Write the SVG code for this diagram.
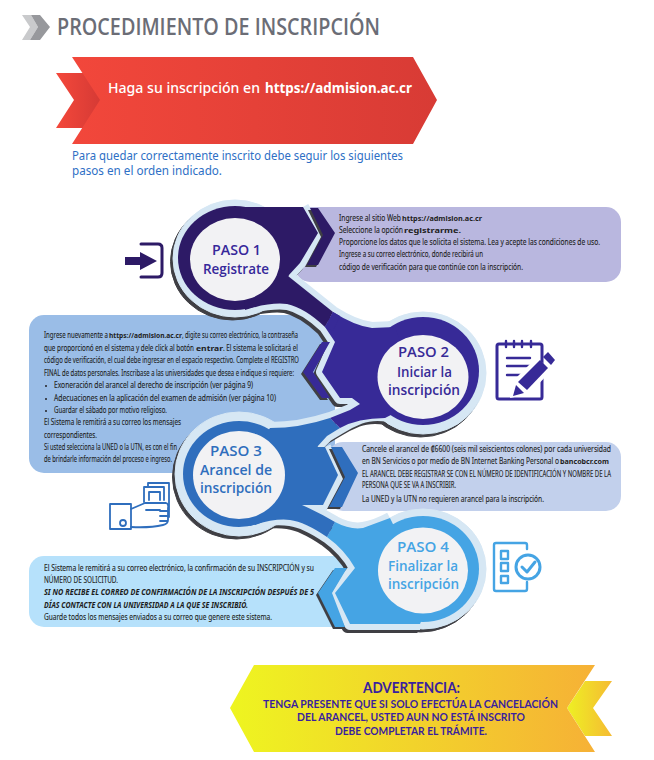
<svg xmlns="http://www.w3.org/2000/svg" width="654" height="760" viewBox="0 0 654 760">
<style>
text{font-family:"Noto Sans","Open Sans",sans-serif}
.t{font-size:8px;fill:#1e1e22;stroke:#1e1e22;stroke-width:.1}
.b{font-weight:700;font-size:7.5px;fill:#1e1e22}
.bi{font-size:8px;font-weight:700;font-style:italic;fill:#1c1c20}
.h{font-family:"Open Sans","Noto Sans",sans-serif;font-size:15px;font-weight:600;text-anchor:start}
.y{font-family:Lato,"Noto Sans",sans-serif;font-weight:700;font-size:12px;fill:#3a1f9e}
.sh{fill:#3f3f44;stroke:#3f3f44}
.li{fill:#d6e7f4;stroke:#d6e7f4}
.ed{stroke-width:12;stroke-linejoin:round}
.wh{fill:#f2f2f4}
.ic{fill:none;stroke-linecap:round;stroke-linejoin:round}
</style>
<defs>
<linearGradient id="red" x1="0" x2="1" y1="0" y2="0"><stop offset="0" stop-color="#f2473b"/><stop offset="1" stop-color="#d83b35"/></linearGradient>
<linearGradient id="redb" x1="0" x2="1" y1="0" y2="0"><stop offset="0" stop-color="#f4483b"/><stop offset="1" stop-color="#d63a35"/></linearGradient>
<linearGradient id="yel" x1="0" x2="1" y1="0" y2="0"><stop offset="0" stop-color="#eef520"/><stop offset="1" stop-color="#f6b136"/></linearGradient>
<linearGradient id="yelb" x1="0" x2="1" y1="0" y2="0"><stop offset="0" stop-color="#eef023"/><stop offset="1" stop-color="#f5bb33"/></linearGradient>
<g id="rings">
<ellipse cx="235" cy="258.5" rx="62" ry="58.5"/>
<ellipse cx="423" cy="373" rx="63" ry="61"/>
<ellipse cx="239" cy="474" rx="64" ry="62"/>
<ellipse cx="423" cy="569" rx="63" ry="60"/>
</g>
<g id="edges" style="fill:none">
<path d="M303,207L318,233L300,263L288,276L333,312Q355,326 372,328L395,327"/>
<path d="M240,310Q270,302 287,304Q305,308 325,327L335,342L322,372L340,398L352,398L360,404L350,410L330,418Q300,428 270,428"/>
<path d="M400,418Q375,412 360,418Q350,422 340,428L327,436L317,446"/>
<path d="M325,447L338,475L323,505L302,505Q320,513 335,522Q350,530 363,528Q375,526 390,518"/>
<path d="M230,526Q270,517 290,520Q305,522 327,537Q345,550 355,568L335,593L350,624L420,624"/>
</g>
<polygon id="c1" points="310,208 318,208 335,233 318,265 307,265 323,235"/>
<polygon id="c2" points="322,342 330,342 313,372 330,398 322,398 303,372"/>
<polygon id="c3" points="331,447 342,447 358,473 342,507 329,507 345,477"/>
<polygon id="c4" points="335,568 347,568 332,593 345,627 335,627 318,593"/>
</defs>

<g id="title">
<polygon fill="#c9cacc" points="22,15 31,15 38,27 30,40 22,40 30,27"/>
<polygon fill="#97989c" points="31,15 40,15 50,27 40,40 30,40 38,27"/>
<text x="57" y="35" font-size="24" font-weight="600" fill="#6b6d76" style="font-family:'Open Sans','Noto Sans',sans-serif" textLength="323" lengthAdjust="spacingAndGlyphs">PROCEDIMIENTO DE INSCRIPCIÓN</text>
</g>

<g id="banner">
<polygon fill="url(#redb)" points="56,73 100,73 100,128 56,128 74,100"/>
<polygon fill="url(#red)" points="72,57 413,57 437,100 413,144 72,144 100,100"/>
<text x="108" y="93" font-size="14.5" fill="#fff" font-weight="500" textLength="152" lengthAdjust="spacingAndGlyphs">Haga su inscripción en</text>
<text x="265" y="93" font-size="14.5" fill="#fff" font-weight="700" textLength="147" lengthAdjust="spacingAndGlyphs">https://admision.ac.cr</text>
</g>
<g id="intro" fill="#2e6fc5" font-size="12.5">
<text x="72" y="160" textLength="331" lengthAdjust="spacingAndGlyphs">Para quedar correctamente inscrito debe seguir los siguientes</text>
<text x="72" y="175" textLength="150" lengthAdjust="spacingAndGlyphs">pasos en el orden indicado.</text>
</g>

<g id="boxes">
<rect x="295" y="207" width="326" height="75" rx="15" fill="#b9b7df"/>
<rect x="29" y="315" width="306" height="158" rx="15" fill="#9abde7"/>
<rect x="328" y="442" width="293" height="69" rx="15" fill="#c2d0ec"/>
<rect x="29" y="556" width="331" height="71" rx="15" fill="#b6e1fb"/>
</g>

<g id="connectors">
<use href="#rings" class="sh" transform="translate(-2.5,3)"/>
<use href="#edges" class="sh ed" transform="translate(-2.5,3)" style="fill:none"/>
<use href="#rings" class="li"/>
<use href="#edges" class="li ed" style="fill:none"/>
<g class="sh" style="stroke:none"><use href="#c1" transform="translate(-2,2)"/><use href="#c2" transform="translate(-2,2)"/><use href="#c3" transform="translate(-2,2)"/><use href="#c4" transform="translate(-2,2)"/></g>
</g>

<g id="step4" fill="#45a4e4">
<use href="#c4"/>
<ellipse cx="423" cy="569" rx="56" ry="53"/>
<path d="M335,522Q350,530 363,528L390,518L430,600L420,624H350L335,593L355,568Q345,550 327,537Z"/>
<ellipse class="wh" cx="423" cy="570.5" rx="45" ry="43"/>
<text class="h" x="397" y="552" textLength="52" lengthAdjust="spacingAndGlyphs">PASO 4</text>
<text class="h" x="388" y="571" textLength="70" lengthAdjust="spacingAndGlyphs">Finalizar la</text>
<text class="h" x="388" y="589" textLength="71" lengthAdjust="spacingAndGlyphs">inscripción</text>
<g class="ic" stroke="#45a4e4" stroke-width="2.4">
<path d="M527,549V545Q527,543 525,543H496Q494,543 494,545V589Q494,591 496,591H525Q527,591 527,589V582"/>
<rect x="501" y="551" width="7" height="8"/><rect x="501" y="563" width="7" height="8"/><rect x="501" y="576" width="7" height="7"/>
<circle cx="528" cy="567" r="12" stroke-width="3" fill="#fff"/>
<path d="M522,567L527,572L535,562" stroke-width="3"/>
</g>
</g>

<g id="step3" fill="#2f6ebd">
<use href="#c3"/>
<ellipse cx="239" cy="474" rx="56" ry="53"/>
<path d="M330,418L340,428L327,436L317,447H325L338,475L323,505H302Q320,513 335,522L327,537Q305,522 290,520Q275,518 250,526L220,500L270,428Q300,428 330,418Z"/>
<ellipse class="wh" cx="239" cy="475" rx="46" ry="44"/>
<text class="h" x="210" y="456" textLength="52" lengthAdjust="spacingAndGlyphs">PASO 3</text>
<text class="h" x="200" y="475" textLength="72" lengthAdjust="spacingAndGlyphs">Arancel de</text>
<text class="h" x="200" y="493" textLength="72" lengthAdjust="spacingAndGlyphs">inscripción</text>
<g class="ic" stroke="#2f6ebd" stroke-width="1.8">
<rect x="110" y="504" width="21" height="25"/>
<circle cx="123" cy="523" r="3"/>
<path d="M148,487V483H169V517M144,502V487H164V500M149,500V492H160V500"/>
<path d="M131,509L145,503H166Q169,504 168,508V520Q168,524 163,525Q150,528 131,527"/>
<path d="M160,511H168M160,516H168M160,521H167M146,510H160"/>
</g>
</g>

<g id="step2" fill="#372a97">
<use href="#c2"/>
<ellipse cx="423" cy="371" rx="56" ry="54"/>
<path d="M333,312Q355,326 372,328L395,327L420,400L385,418Q358,418 340,428L330,418L350,410L360,404L352,398H340L322,372L335,342L325,327Z"/>
<ellipse class="wh" cx="423" cy="377" rx="45.5" ry="42"/>
<text class="h" x="398" y="357" textLength="51" lengthAdjust="spacingAndGlyphs">PASO 2</text>
<text class="h" x="397" y="377" textLength="55" lengthAdjust="spacingAndGlyphs">Iniciar la</text>
<text class="h" x="388" y="395" textLength="72" lengthAdjust="spacingAndGlyphs">inscripción</text>
<g class="ic" stroke="#372a97" stroke-width="3">
<rect x="497" y="344" width="45" height="55" rx="2"/>
<path d="M506,341V347M514,341V347M522,341V347M531,341V347M507,358H530M507,366H530M507,375H523" stroke-width="2.4"/>
</g>
<polygon fill="#fff" points="536,358 552,370 529,394 510,398 516,378"/>
<polygon points="540,360 548,368 527,390 518,382"/>
<polygon points="516,385 524,393 513,396"/>
<polygon points="548,352 555,360 551,365 543,357"/>
</g>

<g id="step1" fill="#2d1a66">
<use href="#c1"/>
<ellipse cx="235" cy="258" rx="57" ry="52"/>
<path d="M240,207H303L318,233L300,263L288,276L333,312L325,327Q305,308 287,304Q270,302 245,310Z"/>
<ellipse class="wh" cx="235" cy="259.5" rx="45" ry="41.5"/>
<text class="h" fill="#36289a" x="212" y="255" textLength="49" lengthAdjust="spacingAndGlyphs">PASO 1</text>
<text class="h" fill="#36289a" x="203" y="274" textLength="66" lengthAdjust="spacingAndGlyphs">Registrate</text>
<path d="M125,257H140V252L157,261L140,270V265H125Z"/>
<path class="ic" stroke="#2d1a66" stroke-width="3" d="M141,244H158Q162,244 162,248V273Q162,277 158,277H141"/>
</g>
<polygon fill="#372a97" points="333,312 340,316 333,331 325,327"/>

<g id="text1">
<text class="t" x="339" y="220.5" textLength="62" lengthAdjust="spacingAndGlyphs">Ingrese al sitio Web</text>
<text class="b" x="402" y="220.5" textLength="80" lengthAdjust="spacingAndGlyphs">https://admision.ac.cr</text>
<text class="t" x="339" y="233" textLength="64" lengthAdjust="spacingAndGlyphs">Seleccione la opción</text>
<text class="b" x="404" y="233" textLength="57" lengthAdjust="spacingAndGlyphs">registrarme.</text>
<text class="t" x="339" y="245" textLength="261" lengthAdjust="spacingAndGlyphs">Proporcione los datos que le solicita el sistema. Lea y acepte las condiciones de uso.</text>
<text class="t" x="339" y="257" textLength="144" lengthAdjust="spacingAndGlyphs">Ingrese a su correo electrónico, donde recibirá un</text>
<text class="t" x="339" y="270" textLength="184" lengthAdjust="spacingAndGlyphs">código de verificación para que continúe con la inscripción.</text>
</g>

<g id="text2">
<text class="t" x="44" y="338" textLength="64" lengthAdjust="spacingAndGlyphs">Ingrese nuevamente a</text>
<text class="b" x="109" y="338" textLength="73" lengthAdjust="spacingAndGlyphs">https://admision.ac.cr</text>
<text class="t" x="182" y="338" textLength="116" lengthAdjust="spacingAndGlyphs">, digite su correo electrónico, la contraseña</text>
<text class="t" x="44" y="351" textLength="150" lengthAdjust="spacingAndGlyphs">que proporcionó en el sistema y dele click al botón</text>
<text class="b" x="196" y="351" textLength="27" lengthAdjust="spacingAndGlyphs">entrar</text>
<text class="t" x="223" y="351" textLength="75" lengthAdjust="spacingAndGlyphs">. El sistema le solicitará el</text>
<text class="t" x="44" y="363" textLength="255" lengthAdjust="spacingAndGlyphs">código de verificación, el cual debe ingresar en el espacio respectivo. Complete el REGISTRO</text>
<text class="t" x="44" y="376" textLength="250" lengthAdjust="spacingAndGlyphs">FINAL de datos personales. Inscribase a las universidades que desea e indique si requiere:</text>
<circle cx="46" cy="386" r="1" fill="#222226"/><circle cx="46" cy="399" r="1" fill="#222226"/><circle cx="46" cy="411" r="1" fill="#222226"/>
<text class="t" x="54" y="388" textLength="199" lengthAdjust="spacingAndGlyphs">Exoneración del arancel al derecho de inscripción (ver página 9)</text>
<text class="t" x="54" y="401" textLength="222" lengthAdjust="spacingAndGlyphs">Adecuaciones en la aplicación del examen de admisión (ver página 10)</text>
<text class="t" x="54" y="413" textLength="113" lengthAdjust="spacingAndGlyphs">Guardar el sábado por motivo religioso.</text>
<text class="t" x="44" y="425" textLength="137" lengthAdjust="spacingAndGlyphs">El Sistema le remitirá a su  correo los mensajes</text>
<text class="t" x="44" y="438" textLength="53" lengthAdjust="spacingAndGlyphs">correspondientes.</text>
<text class="t" x="44" y="450" textLength="133" lengthAdjust="spacingAndGlyphs">Si usted selecciona la UNED o la UTN, es con el fin</text>
<text class="t" x="44" y="462" textLength="128" lengthAdjust="spacingAndGlyphs">de brindarle información del proceso e ingreso.</text>
</g>

<g id="text3">
<text class="t" x="362" y="452" textLength="249" lengthAdjust="spacingAndGlyphs">Cancele el arancel de ₡6600 (seis mil seiscientos colones) por cada universidad</text>
<text class="t" x="362" y="464" textLength="197" lengthAdjust="spacingAndGlyphs">en BN Servicios o por medio de BN Internet Banking Personal o</text>
<text class="b" x="560" y="464" textLength="49" lengthAdjust="spacingAndGlyphs">bancobcr.com</text>
<text class="t" x="362" y="477" textLength="249" lengthAdjust="spacingAndGlyphs">EL ARANCEL DEBE REGISTRAR SE  CON  EL NÚMERO DE IDENTIFICACIÓN Y NOMBRE DE LA</text>
<text class="t" x="362" y="488" textLength="94" lengthAdjust="spacingAndGlyphs">PERSONA QUE SE VA A INSCRIBIR.</text>
<text class="t" x="362" y="502" textLength="182" lengthAdjust="spacingAndGlyphs">La UNED y la UTN no requieren arancel para  la inscripción.</text>
</g>

<g id="text4">
<text class="t" x="44" y="571" textLength="270" lengthAdjust="spacingAndGlyphs">El Sistema le remitirá a su correo electrónico, la confirmación de su INSCRIPCIÓN y su</text>
<text class="t" x="44" y="583" textLength="74" lengthAdjust="spacingAndGlyphs">NÚMERO DE SOLICITUD.</text>
<text class="bi" x="44" y="595" textLength="270" lengthAdjust="spacingAndGlyphs">SI NO RECIBE EL CORREO DE CONFIRMACIÓN DE LA INSCRIPCIÓN DESPUÉS DE 5</text>
<text class="bi" x="44" y="608" textLength="204" lengthAdjust="spacingAndGlyphs">DÍAS CONTACTE CON LA UNIVERSIDAD A LA QUE SE INSCRIBIÓ.</text>
<text class="t" x="44" y="620" textLength="228" lengthAdjust="spacingAndGlyphs">Guarde todos los mensajes enviados a su correo que genere este sistema.</text>
</g>

<g id="warning">
<polygon fill="url(#yelb)" points="567,708 585,681 612,681 593,708 612,736 585,736"/>
<polygon fill="url(#yel)" points="230,708 254,665 595,665 567,708 595,752 254,752"/>
<text class="y" x="363" y="693" style="font-size:15px" textLength="97" lengthAdjust="spacingAndGlyphs">ADVERTENCIA:</text>
<text class="y" x="263" y="708" textLength="295" lengthAdjust="spacingAndGlyphs">TENGA PRESENTE QUE SI SOLO EFECTÚA LA CANCELACIÓN</text>
<text class="y" x="297" y="721" textLength="228" lengthAdjust="spacingAndGlyphs">DEL ARANCEL, USTED AUN NO ESTÁ INSCRITO</text>
<text class="y" x="335" y="735" textLength="152" lengthAdjust="spacingAndGlyphs">DEBE COMPLETAR EL TRÁMITE.</text>
</g>
</svg>
